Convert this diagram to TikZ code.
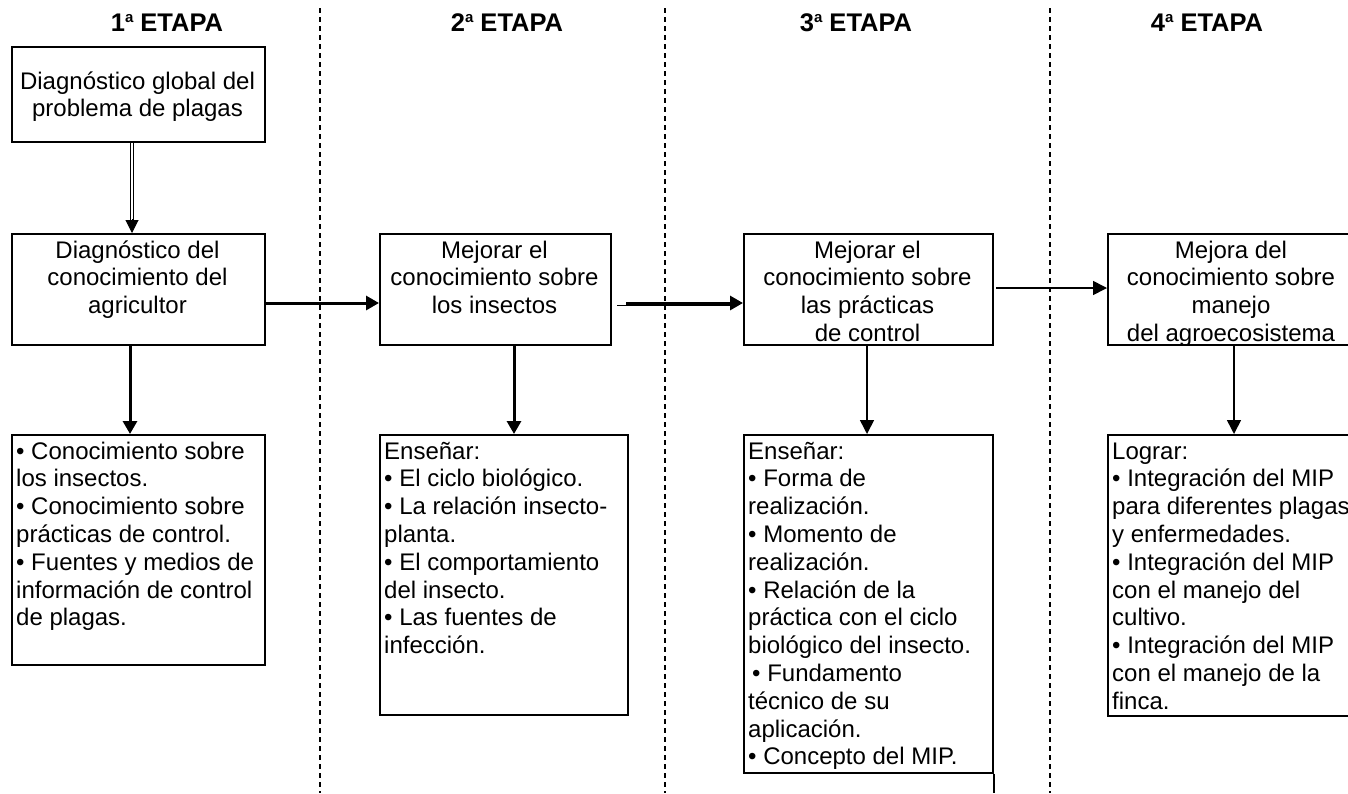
\documentclass[tikz,border=0pt]{standalone}
\usepackage{fontspec}
\setmainfont{Liberation Sans}
\usetikzlibrary{arrows.meta,calc}
\begin{document}
\begin{tikzpicture}[x=1pt,y=-1pt,
  box/.style={draw, line width=1.9pt, inner sep=0pt, anchor=north west},
  txt/.style={inner sep=0pt, font=\fontsize{24}{27.8}\selectfont},
  hdr/.style={inner sep=0pt, anchor=base, font=\fontsize{25.5}{27}\selectfont\bfseries},
  sep/.style={line width=1.4pt, dash pattern=on 5pt off 4pt},
  thickarrow/.style={line width=3pt, -{Triangle[length=13pt,width=14pt]}},
  thinarrow/.style={line width=1.6pt, -{Triangle[length=14pt,width=14pt]}},
]
\fill[white] (0,0) rectangle (1348,793);
\useasboundingbox (0,0) rectangle (1348,793);

% headers
\newcommand{\ordsup}{\raisebox{8.5pt}{\fontsize{15}{15}\selectfont a}}
\node[hdr] (h1) at (167,31) {1\ordsup\ ETAPA};
\node[hdr] (h2) at (507,31) {2\ordsup\ ETAPA};
\node[hdr] (h3) at (856,31) {3\ordsup\ ETAPA};
\node[hdr] (h4) at (1207,31) {4\ordsup\ ETAPA};

% stage separators
\draw[sep] (320,8) -- (320,793);
\draw[sep] (665,8) -- (665,793);
\draw[sep] (1050,8) -- (1050,793);

% boxes
\node[box, minimum width=253pt, minimum height=95pt] (top) at (11,46) {};
\node[box, minimum width=253pt, minimum height=111pt] (b1) at (11,233) {};
\node[box, minimum width=231pt, minimum height=111pt] (b2) at (379,233) {};
\node[box, minimum width=249pt, minimum height=111pt] (b3) at (743,233) {};
\node[box, minimum width=249pt, minimum height=111pt] (b4) at (1107,233) {};

\node[box, minimum width=253pt, minimum height=230pt] (bA) at (11,434) {};
\node[box, minimum width=248pt, minimum height=280pt] (bB) at (379,434) {};
\node[box, minimum width=249pt, minimum height=338pt] (bC) at (743,434) {};
\node[box, minimum width=249pt, minimum height=281pt] (bD) at (1107,434) {};

% texts
\node[txt, anchor=base] (topt) at (137.5,89) {\parbox[t]{300pt}{\centering Diagnóstico global del\\problema de plagas}};
\node[txt, anchor=base] (b1t) at (137.5,258) {\parbox[t]{300pt}{\centering Diagnóstico del\\conocimiento del\\agricultor}};
\node[txt, anchor=base] (b2t) at (494.5,258) {\parbox[t]{300pt}{\centering Mejorar el\\conocimiento sobre\\los insectos}};
\node[txt, anchor=base] (b3t) at (867.5,258) {\parbox[t]{300pt}{\centering Mejorar el\\conocimiento sobre\\las prácticas\\de control}};
\node[txt, anchor=base] (b4t) at (1231,258) {\parbox[t]{300pt}{\centering Mejora del\\conocimiento sobre\\manejo\\del agroecosistema}};

\node[txt, anchor=base west] (bAt) at (16,459) {\parbox[t]{300pt}{\raggedright
• Conocimiento sobre\\los insectos.\\• Conocimiento sobre\\prácticas de control.\\• Fuentes y medios de\\información de control\\de plagas.}};
\node[txt, anchor=base west] (bBt) at (384,459) {\parbox[t]{300pt}{\raggedright
Enseñar:\\• El ciclo biológico.\\• La relación insecto-\\planta.\\• El comportamiento\\del insecto.\\• Las fuentes de\\infección.}};
\node[txt, anchor=base west] (bCt) at (748,459) {\parbox[t]{300pt}{\raggedright
Enseñar:\\• Forma de\\realización.\\• Momento de\\realización.\\• Relación de la\\práctica con el ciclo\\biológico del insecto.\\\hspace*{4pt}• Fundamento\\técnico de su\\aplicación.\\• Concepto del MIP.}};
\node[txt, anchor=base west] (bDt) at (1112,459) {\parbox[t]{300pt}{\raggedright
Lograr:\\• Integración del MIP\\para diferentes plagas\\y enfermedades.\\• Integración del MIP\\con el manejo del\\cultivo.\\• Integración del MIP\\con el manejo de la\\finca.}};

% helper coordinates
\coordinate (c0) at (132,0);
\coordinate (c1) at (130,0);
\coordinate (c2) at (514,0);
\coordinate (c3) at (867,0);
\coordinate (c4) at (1234,0);
\coordinate (r12) at (0,303);
\coordinate (s23) at (626,303);
\coordinate (s23b) at (617,305.5);
\coordinate (s34) at (996,288);
\coordinate (bot) at (0,793);

% top double arrow
\draw[double, double distance=2.2pt, line width=1.1pt, shorten >=10pt] (c0 |- top.south) -- (c0 |- b1.north);
\draw[line width=1pt, -{Triangle[length=13pt,width=13pt]}] ($(c0 |- b1.north)+(0,-14)$) -- (c0 |- b1.north);

% horizontal arrows
\draw[thickarrow] (b1.east |- r12) -- (b2.west |- r12);
\draw[line width=1pt, shorten >=6pt] (s23b) -- (b3.west |- s23b);
\draw[thickarrow] (s23) -- (b3.west |- s23);
\draw[thinarrow] (s34) -- (b4.west |- s34);

% down arrows
\draw[thickarrow] (c1 |- b1.south) -- (c1 |- bA.north);
\draw[thickarrow] (c2 |- b2.south) -- (c2 |- bB.north);
\draw[thinarrow] (c3 |- b3.south) -- (c3 |- bC.north);
\draw[thinarrow] (c4 |- b4.south) -- (c4 |- bD.north);

% extension of box C right edge
\draw[line width=1.9pt] (bC.south east) -- (bC.south east |- bot);
\end{tikzpicture}
\end{document}
